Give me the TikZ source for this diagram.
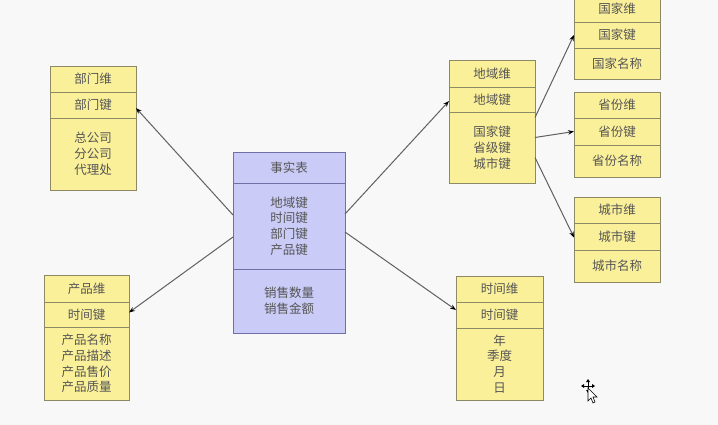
\documentclass[tikz,border=0pt]{standalone}
\usepackage{fontspec}
\newfontfamily\cjk{Noto Sans CJK SC}
\usetikzlibrary{arrows.meta}
\definecolor{bgc}{HTML}{F8F8F8}
\definecolor{yfill}{HTML}{FBF09A}
\definecolor{ydraw}{HTML}{8C8A66}
\definecolor{bfill}{HTML}{CACBF6}
\definecolor{bdraw}{HTML}{6E70A6}
\definecolor{txt}{HTML}{555555}
\definecolor{lnc}{HTML}{606060}
\tikzset{
  cell/.style={rectangle, inner sep=0pt, outer sep=0pt, line width=0.9pt, align=center,
    text=txt, font=\cjk\fontsize{12.5}{15.8}\selectfont},
  ycell/.style={cell, fill=yfill, draw=ydraw},
  bcell/.style={cell, fill=bfill, draw=bdraw},
  arr/.style={draw=lnc, line width=1pt, -{Stealth[length=6pt,width=4.5pt,black]}},
}
\begin{document}
\begin{tikzpicture}[x=1pt,y=-1pt]
\fill[bgc] (0,0) rectangle (718,425);
\useasboundingbox (0,0) rectangle (718,425);

% 部门维
\node[ycell, minimum width=86pt, minimum height=26pt, anchor=north west] (bm1) at (50,66) {部门维};
\node[ycell, minimum width=86pt, minimum height=26pt, anchor=north] (bm2) at (bm1.south) {部门键};
\node[ycell, minimum width=86pt, minimum height=72pt, anchor=north] (bm3) at (bm2.south) {总公司\\分公司\\代理处};

% 产品维
\node[ycell, minimum width=85pt, minimum height=27pt, anchor=north west] (cp1) at (44,275) {产品维};
\node[ycell, minimum width=85pt, minimum height=25pt, anchor=north] (cp2) at (cp1.south) {时间键};
\node[ycell, minimum width=85pt, minimum height=73pt, anchor=north] (cp3) at (cp2.south) {产品名称\\产品描述\\产品售价\\产品质量};

% 事实表
\node[bcell, minimum width=112pt, minimum height=31pt, anchor=north west] (f1) at (233,152) {事实表};
\node[bcell, minimum width=112pt, minimum height=86pt, anchor=north] (f2) at (f1.south) {地域键\\时间键\\部门键\\产品键};
\node[bcell, minimum width=112pt, minimum height=64pt, anchor=north] (f3) at (f2.south) {销售数量\\销售金额};

% 地域维
\node[ycell, minimum width=86pt, minimum height=27pt, anchor=north west] (dy1) at (449,60) {地域维};
\node[ycell, minimum width=86pt, minimum height=25pt, anchor=north] (dy2) at (dy1.south) {地域键};
\node[ycell, minimum width=86pt, minimum height=71pt, anchor=north] (dy3) at (dy2.south) {国家键\\省级键\\城市键};

% 时间维
\node[ycell, minimum width=87pt, minimum height=26pt, anchor=north west] (sj1) at (456,276) {时间维};
\node[ycell, minimum width=87pt, minimum height=26pt, anchor=north] (sj2) at (sj1.south) {时间键};
\node[ycell, minimum width=87pt, minimum height=72pt, anchor=north] (sj3) at (sj2.south) {年\\季度\\月\\日};

% 国家维
\node[ycell, minimum width=86pt, minimum height=26pt, anchor=north west] (gj1) at (574,-4) {国家维};
\node[ycell, minimum width=86pt, minimum height=26pt, anchor=north] (gj2) at (gj1.south) {国家键};
\node[ycell, minimum width=86pt, minimum height=31pt, anchor=north] (gj3) at (gj2.south) {国家名称};

% 省份维
\node[ycell, minimum width=86pt, minimum height=26pt, anchor=north west] (sf1) at (574,92) {省份维};
\node[ycell, minimum width=86pt, minimum height=27pt, anchor=north] (sf2) at (sf1.south) {省份键};
\node[ycell, minimum width=86pt, minimum height=32pt, anchor=north] (sf3) at (sf2.south) {省份名称};

% 城市维
\node[ycell, minimum width=86pt, minimum height=26pt, anchor=north west] (cs1) at (574,197) {城市维};
\node[ycell, minimum width=86pt, minimum height=27pt, anchor=north] (cs2) at (cs1.south) {城市键};
\node[ycell, minimum width=86pt, minimum height=32pt, anchor=north] (cs3) at (cs2.south) {城市名称};

% connectors
\draw[arr] ([yshift=11pt]f2.west) -- ([yshift=-3pt]bm2.east);
\draw[arr] ([yshift=-11pt]f2.west) -- ([yshift=2pt]cp2.east);
\draw[arr] ([yshift=12pt]f2.east) -- ([yshift=-1.5pt]dy2.west);
\draw[arr] ([yshift=-6pt]f2.east) -- ([yshift=5pt]sj2.west);
\draw[arr] ([yshift=30pt]dy3.east) -- (gj2.west);
\draw[arr] ([yshift=10pt]dy3.east) -- (sf2.west);
\draw[arr] ([yshift=-10pt]dy3.east) -- ([yshift=-1pt]cs2.west);

% mouse cursor
\begin{scope}[line width=0.7pt]
\draw[black] (583,386) -- (593,386) (588,381) -- (588,391);
\fill[black] (581,386) -- (584,384) -- (584,388) -- cycle
  (595,386) -- (592,384) -- (592,388) -- cycle
  (588,379) -- (586,382) -- (590,382) -- cycle
  (588,393) -- (586,390) -- (590,390) -- cycle;
\filldraw[fill=white, draw=black, line width=0.6pt] (588,388) -- (588,401) -- (591,398) -- (593,403) -- (595,402) -- (593,397) -- (597,397) -- cycle;
\end{scope}
\end{tikzpicture}
\end{document}
